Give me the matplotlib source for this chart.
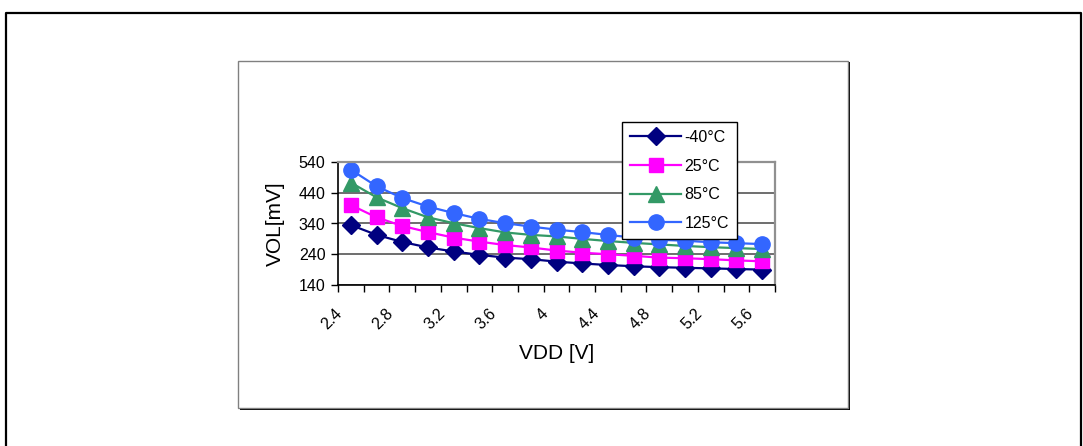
import matplotlib.pyplot as plt
import matplotlib.patches as mpatches
from matplotlib.lines import Line2D
from matplotlib.transforms import ScaledTranslation

plt.rcParams['font.family'] = ['Liberation Sans', 'DejaVu Sans']

# VDD categories (V) and labels shown on the axis (every other one)
vdd = [2.4, 2.6, 2.8, 3.0, 3.2, 3.4, 3.6, 3.8, 4.0, 4.2, 4.4, 4.6, 4.8, 5.0, 5.2, 5.4, 5.6]
vdd_labels = ['2.4', '', '2.8', '', '3.2', '', '3.6', '', '4', '', '4.4', '', '4.8', '', '5.2', '', '5.6']

# VOL in mV for each temperature
vol_m40 = [335, 303, 280, 262, 249, 238, 229, 224, 216, 210, 205, 201, 198, 196, 194, 192, 190]
vol_25 = [400, 360, 332, 312, 294, 281, 270, 262, 252, 245, 240, 235, 229, 227, 224, 220, 217]
vol_85 = [473, 425, 390, 360, 341, 325, 311, 303, 298, 290, 283, 277, 272, 267, 263, 260, 257]
vol_125 = [515, 461, 423, 395, 374, 355, 341, 330, 320, 312, 303, 294, 287, 284, 279, 276, 273]

series = [
    ('-40°C', vol_m40, '#000080', 'D', 9),
    ('25°C', vol_25, '#FF00FF', 's', 10),
    ('85°C', vol_85, '#339966', '^', 11),
    ('125°C', vol_125, '#3366FF', 'o', 11),
]

W, H = 1083, 446
fig = plt.figure(figsize=(W / 100, H / 100), dpi=100)

# outer frame (top, left, right)
fig.add_artist(Line2D([6 / W, 6 / W, 1081 / W, 1081 / W], [0, 1 - 13 / H, 1 - 13 / H, 0],
                      transform=fig.transFigure, color='black', lw=1.6, zorder=-2))
# chart box with shadow
fig.add_artist(mpatches.Rectangle((240 / W, 1 - 410 / H), 610 / W, 348 / H, transform=fig.transFigure,
                                  facecolor='black', edgecolor='black', lw=0, zorder=-2))
fig.add_artist(mpatches.Rectangle((238 / W, 1 - 408 / H), 610 / W, 347 / H, transform=fig.transFigure,
                                  facecolor='white', edgecolor='#808080', lw=1, zorder=-1))

ax = fig.add_axes([338 / W, 1 - 285 / H, 437 / W, 123 / H])
ax.set_zorder(2)
x = list(range(len(vdd)))
for name, vals, col, mk, ms in series:
    ax.plot(x, vals, color=col, lw=1.6, marker=mk, markersize=ms, label=name, clip_on=False)

ax.set_xlim(-0.5, len(vdd) - 0.5)
ax.set_ylim(140, 540)
ax.set_yticks([140, 240, 340, 440, 540])
ax.yaxis.grid(True, color='#555555', lw=1.2)
ax.set_axisbelow(True)
ax.set_xticks(x)
ax.set_xticklabels(vdd_labels, rotation=45, ha='right', va='center', rotation_mode='anchor')
ax.set_xticks([i - 0.5 for i in range(len(vdd) + 1)], minor=True)
ax.tick_params(axis='x', which='major', length=0, pad=0, labelsize=11.5)
ax.tick_params(axis='x', which='minor', length=5, width=1, direction='out')
ax.tick_params(axis='y', length=5, width=1, labelsize=11.5, pad=4)
shift = ScaledTranslation(-11 / 100, -26 / 100, fig.dpi_scale_trans)
for lab in ax.get_xticklabels():
    lab.set_transform(lab.get_transform() + shift)
for s in ['top', 'right']:
    ax.spines[s].set_color('#909090')
    ax.spines[s].set_linewidth(1.6)
for s in ['left', 'bottom']:
    ax.spines[s].set_color('black')
    ax.spines[s].set_linewidth(1.2)

ax.set_ylabel('VOL[mV]', fontsize=15)
ax.set_xlabel('VDD [V]', fontsize=15)
ax.yaxis.set_label_coords(-0.121, 0.5)
ax.xaxis.set_label_coords(0.5, -0.48)

leg = fig.legend(loc='upper left', bbox_to_anchor=(622 / W, 1 - 122 / H), fontsize=11.5,
                 frameon=True, fancybox=False, edgecolor='black', framealpha=1,
                 handlelength=3.2, borderpad=0.5, labelspacing=0.85, handletextpad=0.2,
                 borderaxespad=0)
leg.get_frame().set_linewidth(1)
leg.set_zorder(5)

fig.savefig('out.png', dpi=100)
